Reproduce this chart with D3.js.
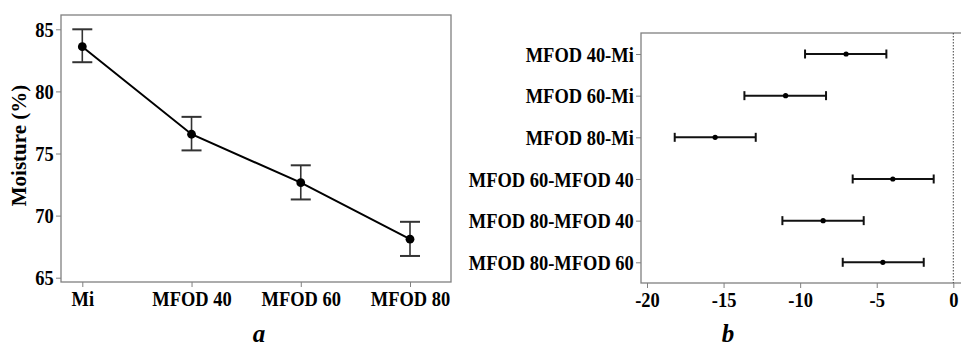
<!DOCTYPE html>
<html>
<head>
<meta charset="utf-8">
<script src="https://cdn.jsdelivr.net/npm/d3@7"></script>
<style>
body{margin:0;background:#fff;}
svg text{font-family:"Liberation Serif","Times New Roman",serif;font-weight:bold;fill:#000;}
</style>
</head>
<body>
<svg id="chart" width="961" height="350"></svg>
<script>
// panel a : moisture by treatment
var groups=['Mi','MFOD 40','MFOD 60','MFOD 80'];
var moisture=[83.6,76.55,72.65,68.1];
var moistLo=[82.35,75.25,71.3,66.75];
var moistHi=[85.0,77.95,74.05,69.5];
var yTicks=[65,70,75,80,85];

// panel b : pairwise differences with intervals
var pairs=['MFOD 40-Mi','MFOD 60-Mi','MFOD 80-Mi','MFOD 60-MFOD 40','MFOD 80-MFOD 40','MFOD 80-MFOD 60'];
var diff=[-7.0,-10.95,-15.55,-3.95,-8.5,-4.6];
var diffLo=[-9.68,-13.64,-18.19,-6.57,-11.16,-7.22];
var diffHi=[-4.37,-8.31,-12.9,-1.28,-5.85,-1.93];
var xTicks=[-20,-15,-10,-5,0];

var svg=d3.select('#chart');
var frameC='#808080', barC='#333';
var FS=20.5, SX=0.9;

function styleAxis(ax,side){
	ax.select('.domain').remove();
	ax.selectAll('line').attr('stroke',frameC);
	var t=ax.selectAll('text').attr('font-size',FS).attr('font-family','Liberation Serif').attr('font-weight','bold');
	if(side=='left') t.attr('dy','0.35em').attr('transform','scale('+SX+',1)');
	else t.attr('dy','0.8em').attr('transform',function(){return 'translate(0,0) scale('+SX+',1)';});
}

//////////////////////////////////////////////////////////////// a
var A={l:61,t:15,r:451,b:282};
var xa=d3.scalePoint().domain(groups).range([82.3,410]);
var ya=d3.scaleLinear().domain([65,85]).range([277.7,29.3]);
var ga=svg.append('g');
ga.append('rect').attr('x',A.l).attr('y',A.t).attr('width',A.r-A.l).attr('height',A.b-A.t)
	.attr('fill','none').attr('stroke',frameC).attr('stroke-width',1.3);

var axL=ga.append('g').attr('transform','translate('+A.l+',0)')
	.call(d3.axisLeft(ya).tickValues(yTicks).tickSize(5).tickPadding(3));
var axB=ga.append('g').attr('transform','translate(0,'+A.b+')')
	.call(d3.axisBottom(xa).tickSize(5).tickPadding(3));
styleAxis(axL,'left');
styleAxis(axB,'bottom');
// scale() moves x of centred labels too, so keep them on their ticks
axB.selectAll('.tick text').attr('transform',null).attr('textLength',null)
	.each(function(){
		var n=d3.select(this);
		n.attr('transform','scale('+SX+',1)');
	});
axB.selectAll('.tick').each(function(){
	var tr=d3.select(this).attr('transform');
	var x=+tr.match(/translate\(([-\d.]+)/)[1];
	d3.select(this).attr('transform','translate('+x+',0)');
});

ga.append('text').attr('transform','translate(26,'+((A.t+A.b)/2-3)+') rotate(-90)')
	.attr('text-anchor','middle').attr('font-size',21).text('Moisture (%)');

ga.append('path').datum(groups)
	.attr('fill','none').attr('stroke','#000').attr('stroke-width',2)
	.attr('d',d3.line().x(function(d){return xa(d);}).y(function(d,i){return ya(moisture[i]);}));

var eb=ga.selectAll('.eb').data(groups).enter().append('g').attr('class','eb');
eb.append('line').attr('x1',function(d){return xa(d);}).attr('x2',function(d){return xa(d);})
	.attr('y1',function(d,i){return ya(moistLo[i]);}).attr('y2',function(d,i){return ya(moistHi[i]);})
	.attr('stroke',barC).attr('stroke-width',1.6);
[moistLo,moistHi].forEach(function(arr){
	eb.append('line').attr('x1',function(d){return xa(d)-10;}).attr('x2',function(d){return xa(d)+10;})
		.attr('y1',function(d,i){return ya(arr[i]);}).attr('y2',function(d,i){return ya(arr[i]);})
		.attr('stroke',barC).attr('stroke-width',2);
});
eb.append('circle').attr('cx',function(d){return xa(d);}).attr('cy',function(d,i){return ya(moisture[i]);})
	.attr('r',4.4).attr('fill','#000');

//////////////////////////////////////////////////////////////// b
var B={l:641,t:33,r:966,b:283};
var xb=d3.scaleLinear().domain([-20,0]).range([647,953.3]);
var yb=d3.scalePoint().domain(pairs).range([54,262.3]);
var gb=svg.append('g');
gb.append('rect').attr('x',B.l).attr('y',B.t).attr('width',B.r-B.l).attr('height',B.b-B.t)
	.attr('fill','none').attr('stroke',frameC).attr('stroke-width',1.3);

var bxL=gb.append('g').attr('transform','translate('+B.l+',0)')
	.call(d3.axisLeft(yb).tickSize(5).tickPadding(3));
var bxB=gb.append('g').attr('transform','translate(0,'+B.b+')')
	.call(d3.axisBottom(xb).tickValues(xTicks).tickFormat(function(d){return String(d);}).tickSize(5).tickPadding(3));
styleAxis(bxL,'left');
styleAxis(bxB,'bottom');

gb.append('line').attr('x1',xb(0)).attr('x2',xb(0)).attr('y1',B.t).attr('y2',B.b)
	.attr('stroke','#444').attr('stroke-width',1).attr('stroke-dasharray','1.5,1.5');

var ci=gb.selectAll('.ci').data(pairs).enter().append('g').attr('class','ci');
ci.append('line').attr('x1',function(d,i){return xb(diffLo[i]);}).attr('x2',function(d,i){return xb(diffHi[i]);})
	.attr('y1',function(d){return yb(d);}).attr('y2',function(d){return yb(d);})
	.attr('stroke','#111').attr('stroke-width',2);
[diffLo,diffHi].forEach(function(arr){
	ci.append('line').attr('x1',function(d,i){return xb(arr[i]);}).attr('x2',function(d,i){return xb(arr[i]);})
		.attr('y1',function(d){return yb(d)-4.5;}).attr('y2',function(d){return yb(d)+4.5;})
		.attr('stroke','#111').attr('stroke-width',2);
});
ci.append('circle').attr('cx',function(d,i){return xb(diff[i]);}).attr('cy',function(d){return yb(d);})
	.attr('r',2.6).attr('fill','#000');

//////////////////////////////////////////////////////////////// panel letters
svg.append('text').attr('x',259).attr('y',342).attr('text-anchor','middle')
	.attr('font-size',25).attr('font-style','italic').text('a');
svg.append('text').attr('x',728).attr('y',342).attr('text-anchor','middle')
	.attr('font-size',25).attr('font-style','italic').text('b');
</script>
</body>
</html>
